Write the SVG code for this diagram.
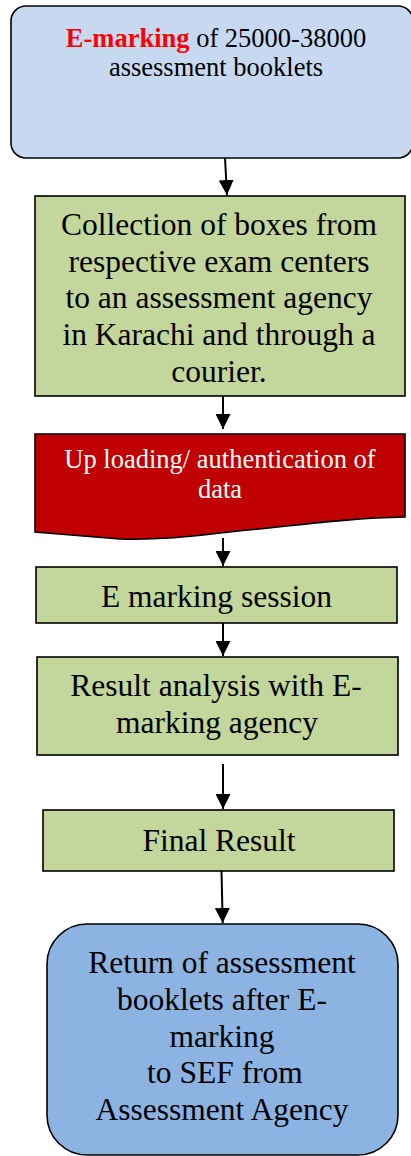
<svg xmlns="http://www.w3.org/2000/svg" width="411" height="1156" viewBox="0 0 411 1156">
  <defs>
    <marker id="arrow" markerUnits="userSpaceOnUse" markerWidth="15" markerHeight="15" viewBox="0 0 15 15" refX="15" refY="7.5" orient="auto">
      <path d="M0,0 L15,7.5 L0,15 Z" fill="#000"/>
    </marker>
    <style>
      .box { stroke: #000; stroke-width: 1.6; }
      .green { fill: #C3D69B; }
      .t { font-family: "Liberation Serif", "Times New Roman", serif; fill: #000; text-anchor: middle; }
      .big { font-size: 31.5px; }
      .small { font-size: 26.5px; }
      .conn { stroke: #000; stroke-width: 2; fill: none; marker-end: url(#arrow); }
    </style>
  </defs>
  <rect width="411" height="1156" fill="#fff"/>

  <g id="n1">
    <rect class="box" x="11" y="6" width="402" height="152" rx="15" ry="15" fill="#C6D9F1"/>
    <text class="t small" x="216" y="47"><tspan fill="#FF0000" font-weight="bold">E-marking</tspan> of 25000-38000</text>
    <text class="t small" x="216" y="76">assessment booklets</text>
  </g>

  <g id="n2">
    <rect class="box green" x="35" y="196" width="370" height="200"/>
    <text class="t big" x="219" y="235">Collection of boxes from</text>
    <text class="t big" x="219" y="272">respective exam centers</text>
    <text class="t big" x="219" y="308">to an assessment agency</text>
    <text class="t big" x="219" y="345">in Karachi and through a</text>
    <text class="t big" x="219" y="382">courier.</text>
  </g>

  <g id="n3">
    <path class="box" d="M35,434 H405 V517 C350,518 300,525 220,533 C180,538 150,540 120,539 L35,532 Z" fill="#C00000"/>
    <text class="t small" x="220" y="468" style="fill:#fff">Up loading/ authentication of</text>
    <text class="t small" x="220" y="498" style="fill:#fff">data</text>
  </g>

  <g id="n4">
    <rect class="box green" x="36" y="567" width="361" height="56"/>
    <text class="t big" x="216.5" y="607">E marking session</text>
  </g>

  <g id="n5">
    <rect class="box green" x="37" y="657" width="361" height="98"/>
    <text class="t big" x="216" y="696">Result analysis with E-</text>
    <text class="t big" x="217" y="733">marking agency</text>
  </g>

  <g id="n6">
    <rect class="box green" x="43" y="810" width="351" height="61"/>
    <text class="t big" x="219" y="851">Final Result</text>
  </g>

  <g id="n7">
    <rect class="box" x="47" y="924" width="351" height="231" rx="40" ry="40" fill="#8DB3E2"/>
    <text class="t big" x="222" y="973">Return of assessment</text>
    <text class="t big" x="222" y="1010">booklets after E-</text>
    <text class="t big" x="222" y="1047">marking</text>
    <text class="t big" x="225" y="1083">to SEF from</text>
    <text class="t big" x="222" y="1120">Assessment Agency</text>
  </g>

  <g id="connectors">
    <line class="conn" x1="225" y1="158" x2="227" y2="195"/>
    <line class="conn" x1="223" y1="396" x2="223" y2="429"/>
    <line class="conn" x1="223" y1="538" x2="223" y2="566"/>
    <line class="conn" x1="223" y1="623" x2="223" y2="656"/>
    <line class="conn" x1="223" y1="764" x2="223" y2="809"/>
    <line class="conn" x1="221.5" y1="871" x2="222.7" y2="923"/>
  </g>
</svg>
